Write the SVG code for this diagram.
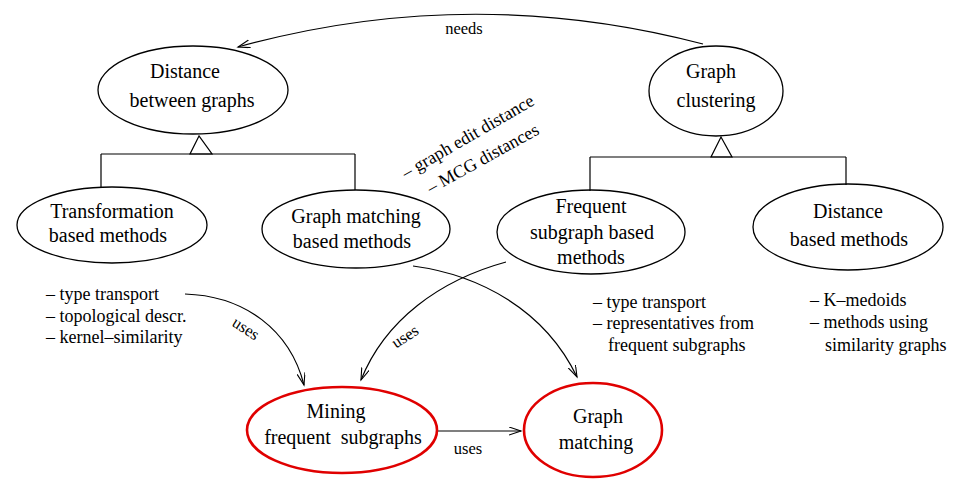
<svg xmlns="http://www.w3.org/2000/svg" width="976" height="498" viewBox="0 0 976 498" font-family="'Liberation Serif', 'Times New Roman', Times, serif">
<style>
text{font-family:'Liberation Serif','Times New Roman',Times,serif;fill:#000}
.n{font-size:20px;text-anchor:middle}
.s{font-size:16.5px}
.t{font-size:18px}
.e{fill:none;stroke:#000;stroke-width:1.3}
.r{fill:none;stroke:#e00000;stroke-width:2.6}
.l{fill:none;stroke:#000;stroke-width:1.2}
.a{fill:none;stroke:#000;stroke-width:1.2;marker-end:url(#ah)}
</style>
<defs>
<marker id="ah" markerUnits="userSpaceOnUse" markerWidth="14" markerHeight="10" refX="12" refY="4" orient="auto">
<path d="M0,0 L12,4 L0,8" fill="none" stroke="#000" stroke-width="1.1"/>
</marker>
</defs>
<rect width="976" height="498" fill="#fff"/>
<g id="connectors">
<path class="a" d="M703,44 Q470,-17 238,47"/>
<path class="l" d="M101,154 H355 M101,154 V187 M355,154 V190"/>
<path class="l" d="M199,136 L190,154 H212 Z" fill="#fff"/>
<path class="l" d="M590,157 H846 M590,157 V191 M846,157 V185"/>
<path class="l" d="M721,137 L711,157 H732 Z" fill="#fff"/>
<path class="a" d="M185,294 C245,296 290,330 304,385"/>
<path class="a" d="M506,262 C440,280 385,320 361,380"/>
<path class="a" d="M413,266 C480,275 545,310 577,377"/>
<path class="a" d="M438,431 H521"/>
<text x="464" y="34" class="s" text-anchor="middle">needs</text>
<text class="s" text-anchor="middle" transform="translate(243,333) rotate(33)">uses</text>
<text class="s" text-anchor="middle" transform="translate(408,341) rotate(-33)">uses</text>
<text x="468" y="454" class="s" text-anchor="middle">uses</text>
</g>
<g id="distance-between-graphs">
<ellipse class="e" cx="193" cy="90" rx="95" ry="44"/>
<text class="n" x="185" y="78">Distance</text>
<text class="n" x="192" y="107">between graphs</text>
</g>
<g id="graph-clustering">
<ellipse class="e" cx="716" cy="91" rx="67" ry="45"/>
<text class="n" x="711" y="78">Graph</text>
<text class="n" x="716" y="107">clustering</text>
</g>
<g id="transformation">
<ellipse class="e" cx="112" cy="225" rx="95" ry="38"/>
<text class="n" x="112" y="218">Transformation</text>
<text class="n" x="108" y="242">based methods</text>
</g>
<g id="graph-matching-based">
<ellipse class="e" cx="356" cy="229" rx="94" ry="39"/>
<text class="n" x="356" y="223">Graph matching</text>
<text class="n" x="352" y="248">based methods</text>
</g>
<g id="frequent-subgraph-based">
<ellipse class="e" cx="591" cy="232" rx="94" ry="42"/>
<text class="n" x="591" y="213">Frequent</text>
<text class="n" x="592" y="239">subgraph based</text>
<text class="n" x="591" y="264">methods</text>
</g>
<g id="distance-based">
<ellipse class="e" cx="848" cy="227" rx="95" ry="43"/>
<text class="n" x="848" y="218">Distance</text>
<text class="n" x="849" y="246">based methods</text>
</g>
<g id="mining-frequent-subgraphs">
<ellipse class="r" cx="342" cy="430" rx="95" ry="43"/>
<text class="n" x="336" y="418">Mining</text>
<text class="n" x="343" y="444" xml:space="preserve">frequent  subgraphs</text>
</g>
<g id="graph-matching">
<ellipse class="r" cx="593" cy="430" rx="69" ry="47"/>
<text class="n" x="598" y="423">Graph</text>
<text class="n" x="596" y="449">matching</text>
</g>
<g id="notes">
<text class="t" x="46" y="300">– type transport</text>
<text class="t" x="46" y="322">– topological descr.</text>
<text class="t" x="46" y="343">– kernel–similarity</text>
<text class="t" x="593" y="308">– type transport</text>
<text class="t" x="593" y="329">– representatives from</text>
<text class="t" x="608" y="351">frequent subgraphs</text>
<text class="t" x="810" y="306">– K–medoids</text>
<text class="t" x="810" y="328">– methods using</text>
<text class="t" x="825" y="351">similarity graphs</text>
<text class="t" transform="translate(406,179) rotate(-30)">– graph edit distance</text>
<text class="t" transform="translate(431,194) rotate(-29)">– MCG distances</text>
</g>
</svg>
